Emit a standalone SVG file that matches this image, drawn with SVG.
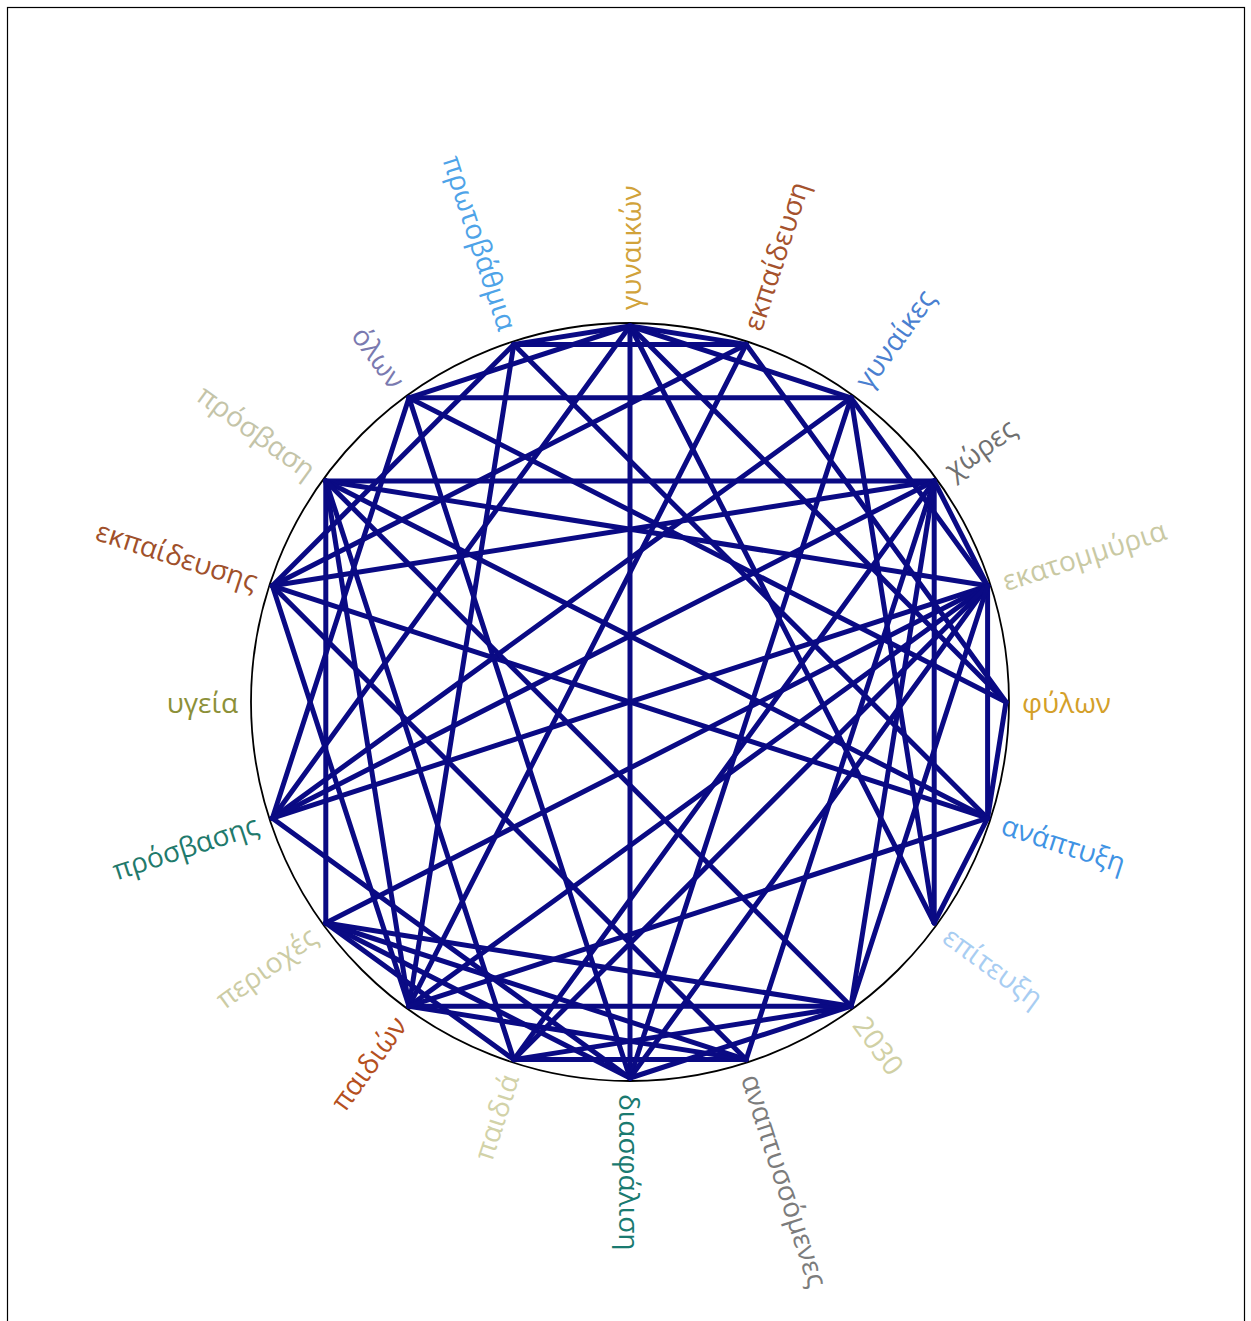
<svg xmlns="http://www.w3.org/2000/svg" width="1251" height="1321" viewBox="0 0 1251 1321">
<style>
.lbl{font-family:"Open Sans","Noto Sans",sans-serif;font-size:28px;dominant-baseline:central}
.s{text-anchor:start}
.e{text-anchor:end}
.c line{stroke:#0a0a84;stroke-width:5;stroke-linecap:round}
</style>
<rect x="0" y="0" width="1251" height="1321" fill="#ffffff"/>
<rect x="7.5" y="7.5" width="1237" height="1330" fill="none" stroke="#000" stroke-width="1.2"/>
<circle cx="630" cy="702" r="379" fill="none" stroke="#000" stroke-width="1.8"/>
<g id="connectors" class="c">
<line x1="513.8" y1="344.4" x2="746.2" y2="344.4"/>
<line x1="409" y1="397.8" x2="851" y2="397.8"/>
<line x1="325.8" y1="481" x2="934.2" y2="481"/>
<line x1="630" y1="326" x2="630" y2="1078"/>
<line x1="325.8" y1="481" x2="325.8" y2="923"/>
<line x1="934.2" y1="481" x2="934.2" y2="923"/>
<line x1="513.8" y1="1059.6" x2="746.2" y2="1059.6"/>
<line x1="325.8" y1="481" x2="987.6" y2="585.8"/>
<line x1="513.8" y1="344.4" x2="987.6" y2="818.2"/>
<line x1="513.8" y1="344.4" x2="409" y2="1006.2"/>
<line x1="630" y1="326" x2="409" y2="397.8"/>
<line x1="630" y1="326" x2="272.4" y2="818.2"/>
<line x1="630" y1="326" x2="851" y2="397.8"/>
<line x1="409" y1="397.8" x2="272.4" y2="818.2"/>
<line x1="409" y1="397.8" x2="630" y2="1078"/>
<line x1="272.4" y1="585.8" x2="934.2" y2="481"/>
<line x1="272.4" y1="585.8" x2="513.8" y2="344.4"/>
<line x1="272.4" y1="585.8" x2="746.2" y2="344.4"/>
<line x1="272.4" y1="585.8" x2="987.6" y2="818.2"/>
<line x1="272.4" y1="818.2" x2="851" y2="397.8"/>
<line x1="272.4" y1="818.2" x2="987.6" y2="585.8"/>
<line x1="409" y1="1006.2" x2="325.8" y2="481"/>
<line x1="409" y1="1006.2" x2="272.4" y2="585.8"/>
<line x1="513.8" y1="1059.6" x2="325.8" y2="481"/>
<line x1="513.8" y1="1059.6" x2="325.8" y2="923"/>
<line x1="513.8" y1="1059.6" x2="851" y2="1006.2"/>
<line x1="746.2" y1="1059.6" x2="409" y2="1006.2"/>
<line x1="746.2" y1="1059.6" x2="272.4" y2="585.8"/>
<line x1="746.2" y1="1059.6" x2="934.2" y2="481"/>
<line x1="325.8" y1="923" x2="987.6" y2="585.8"/>
<line x1="934.2" y1="481" x2="272.4" y2="818.2"/>
<line x1="934.2" y1="481" x2="513.8" y2="1059.6"/>
<line x1="934.2" y1="481" x2="851" y2="1006.2"/>
<line x1="934.2" y1="481" x2="987.6" y2="585.8"/>
<line x1="630" y1="326" x2="934.2" y2="923"/>
<line x1="630" y1="326" x2="1006" y2="702"/>
<line x1="630" y1="1078" x2="325.8" y2="923"/>
<line x1="409" y1="1006.2" x2="851" y2="1006.2"/>
<line x1="325.8" y1="923" x2="746.2" y2="1059.6"/>
<line x1="1006" y1="702" x2="987.6" y2="818.2"/>
<line x1="1006" y1="702" x2="409" y2="397.8"/>
<line x1="272.4" y1="818.2" x2="630" y2="1078"/>
<line x1="851" y1="397.8" x2="987.6" y2="585.8"/>
<line x1="851" y1="397.8" x2="934.2" y2="923"/>
<line x1="746.2" y1="344.4" x2="409" y2="1006.2"/>
<line x1="746.2" y1="344.4" x2="1006" y2="702"/>
<line x1="630" y1="326" x2="513.8" y2="344.4"/>
<line x1="630" y1="326" x2="746.2" y2="344.4"/>
<line x1="325.8" y1="481" x2="987.6" y2="818.2"/>
<line x1="325.8" y1="481" x2="851" y2="1006.2"/>
<line x1="630" y1="1078" x2="851" y2="397.8"/>
<line x1="630" y1="1078" x2="987.6" y2="585.8"/>
<line x1="987.6" y1="585.8" x2="987.6" y2="818.2"/>
<line x1="987.6" y1="585.8" x2="409" y2="1006.2"/>
<line x1="513.8" y1="1059.6" x2="987.6" y2="585.8"/>
<line x1="325.8" y1="923" x2="851" y2="1006.2"/>
<line x1="934.2" y1="923" x2="987.6" y2="818.2"/>
<line x1="987.6" y1="818.2" x2="409" y2="1006.2"/>
<line x1="851" y1="1006.2" x2="987.6" y2="585.8"/>
<line x1="851" y1="1006.2" x2="630" y2="1078"/>
</g>
<g id="n0"><text class="lbl s" transform="translate(1022,702)" fill="#d4a029">φύλων</text></g>
<g id="n1"><text class="lbl s" transform="translate(1002.8,580.9) rotate(-18)" fill="#c9c9a3">εκατομμύρια</text></g>
<g id="n2"><text class="lbl s" transform="translate(947.1,471.6) rotate(-36)" fill="#707070">χώρες</text></g>
<g id="n3"><text class="lbl s" transform="translate(860.4,384.9) rotate(-54)" fill="#4a7fd0">γυναίκες</text></g>
<g id="n4"><text class="lbl s" transform="translate(751.1,329.2) rotate(-72)" fill="#a5522d">εκπαίδευση</text></g>
<g id="n5"><text class="lbl s" transform="translate(630,310) rotate(-90)" fill="#d1a23a">γυναικών</text></g>
<g id="n6"><text class="lbl e" transform="translate(508.9,329.2) rotate(72)" fill="#4ea3e8">πρωτοβάθμια</text></g>
<g id="n7"><text class="lbl e" transform="translate(399.6,384.9) rotate(54)" fill="#7a7ab0">όλων</text></g>
<g id="n8"><text class="lbl e" transform="translate(312.9,471.6) rotate(36)" fill="#c4c4a8">πρόσβαση</text></g>
<g id="n9"><text class="lbl e" transform="translate(257.2,580.9) rotate(18)" fill="#a0502a">εκπαίδευσης</text></g>
<g id="n10"><text class="lbl e" transform="translate(238,702)" fill="#8c9038">υγεία</text></g>
<g id="n11"><text class="lbl e" transform="translate(257.2,823.1) rotate(-18)" fill="#1f7a6c">πρόσβασης</text></g>
<g id="n12"><text class="lbl e" transform="translate(312.9,932.4) rotate(-36)" fill="#cccca4">περιοχές</text></g>
<g id="n13"><text class="lbl e" transform="translate(399.6,1019.1) rotate(-54)" fill="#b5501e">παιδιών</text></g>
<g id="n14"><text class="lbl e" transform="translate(508.9,1074.8) rotate(-72)" fill="#d2d2a8">παιδιά</text></g>
<g id="n15"><text class="lbl s" transform="translate(630,1094) rotate(90)" fill="#1a7a70">διασφάλιση</text></g>
<g id="n16"><text class="lbl s" transform="translate(751.1,1074.8) rotate(72)" fill="#7c7c7c">αναπτυσσόμενες</text></g>
<g id="n17"><text class="lbl s" transform="translate(860.4,1019.1) rotate(54)" fill="#d0d0a4">2030</text></g>
<g id="n18"><text class="lbl s" transform="translate(947.1,932.4) rotate(36)" fill="#a8cdf2">επίτευξη</text></g>
<g id="n19"><text class="lbl s" transform="translate(1002.8,823.1) rotate(18)" fill="#3f93e4">ανάπτυξη</text></g>
</svg>
